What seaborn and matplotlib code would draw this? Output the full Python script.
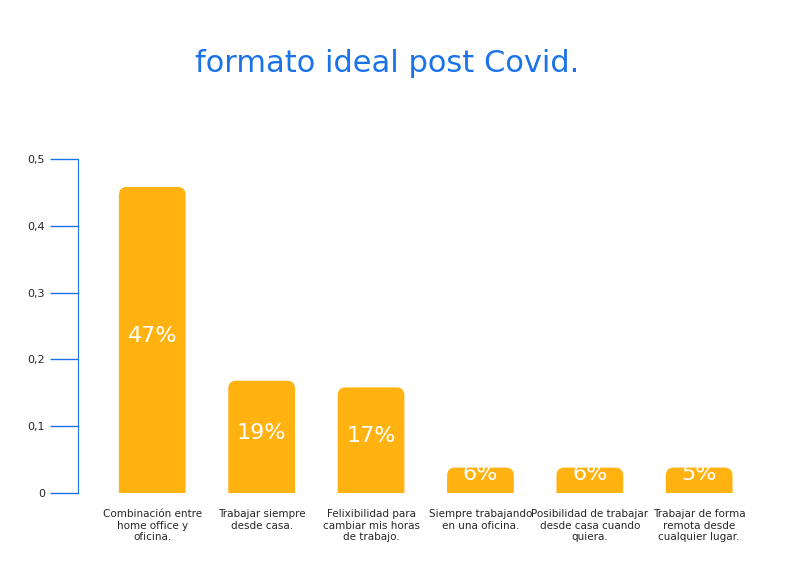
import matplotlib
matplotlib.use("Agg")
import matplotlib.pyplot as plt
import seaborn as sns
import pandas as pd
from matplotlib.patches import FancyBboxPatch

categories = ["Combinación entre\nhome office y\noficina.", "Trabajar siempre\ndesde casa.",
              "Felixibilidad para\ncambiar mis horas\nde trabajo.", "Siempre trabajando\nen una oficina.",
              "Posibilidad de trabajar\ndesde casa cuando\nquiera.", "Trabajar de forma\nremota desde\ncualquier lugar."]
values = [0.47, 0.18, 0.17, 0.05, 0.05, 0.05]
labels = ["47%", "19%", "17%", "6%", "6%", "5%"]
yticks = [0, 0.1, 0.2, 0.3, 0.4, 0.5]
ytick_labels = ["0", "0,1", "0,2", "0,3", "0,4", "0,5"]

sns.set_style("white")
plt.rcParams['font.family'] = ['DejaVu Sans']
fig = plt.figure(figsize=(7.91, 5.8), dpi=100)
ax = fig.add_axes([0.099, 0.15, 0.843, 0.576])
df = pd.DataFrame({"cat": categories, "val": values})
sns.barplot(data=df, x="cat", y="val", color="#FFB210", width=0.61, ax=ax, saturation=1)
ax.set_ylim(0, 0.5)
ax.set_xlim(-0.676, 5.42)

bbox = ax.get_window_extent()
ypp = 0.5 / bbox.height
xpp = (5.42 + 0.676) / bbox.width
rpx = 8
r = rpx * xpp
ry = rpx * ypp
for p, lab in zip(list(ax.patches), labels):
    x, y, w, h = p.get_x(), p.get_y(), p.get_width(), p.get_height()
    p.set_visible(False)
    # inner box; pad adds r (x) and ry (y) around it; extend below 0 so bottom corners clip
    fb = FancyBboxPatch((x + r, -2 * ry + ry), w - 2 * r, h - ry + ry - ry + 0 + ry - ry + (ry - ry) + (h * 0) - (-ry) - ry - ry + ry - ry + ry if False else h - 2 * ry + ry,
                        boxstyle=f"round,pad={r},rounding_size={r}",
                        mutation_aspect=ypp / xpp, fc="#FFB210", ec="none")
    ax.add_patch(fb)
    ax.text(x + w / 2, h / 2 if h > 0.1 else h / 2 + 0.004, lab, ha="center", va="center",
            color="white", fontsize=16)
ax.set_yticks(yticks)
ax.set_yticklabels(ytick_labels, fontsize=8)
ax.tick_params(axis="y", left=True, length=20, color="#1a73e8", width=1, pad=4)
ax.tick_params(axis="x", bottom=False, labelsize=7.5, pad=8)
for s in ["top", "right", "bottom"]:
    ax.spines[s].set_visible(False)
ax.spines["left"].set_color("#1a73e8")
ax.set_xlabel("")
ax.set_ylabel("")
fig.text(0.49, 0.89, "formato ideal post Covid.", ha="center", va="center",
         fontsize=22, color="#1a73e8")
fig.savefig("out.png", dpi=100)
